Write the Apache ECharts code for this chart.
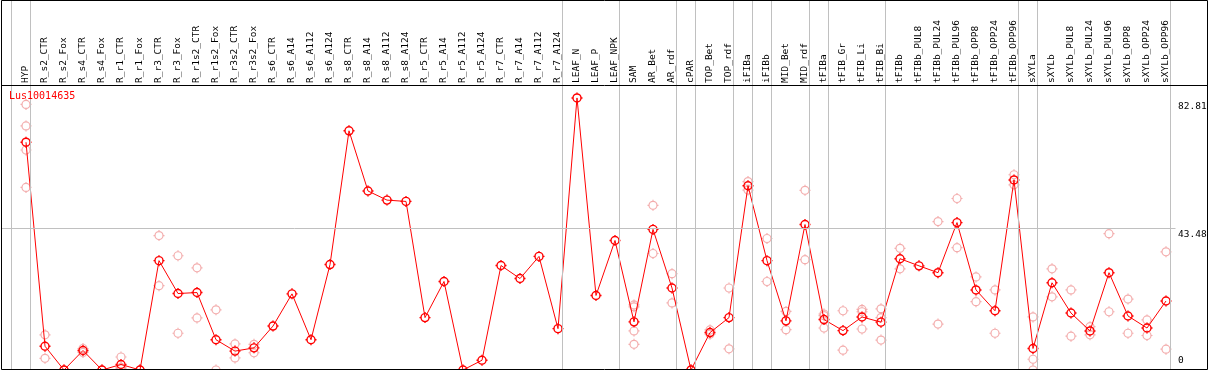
<!DOCTYPE html>
<html><head><meta charset="utf-8">
<script src="https://cdn.jsdelivr.net/npm/echarts@6/dist/echarts.min.js"></script>
<style>html,body{margin:0;padding:0;background:#fff}#c{width:1209px;height:370px}</style>
</head><body><div id="c"></div>
<script>
const geneName = 'Lus10014635';
const categories = ['HYP','R_s2_CTR','R_s2_Fox','R_s4_CTR','R_s4_Fox','R_r1_CTR','R_r1_Fox','R_r3_CTR','R_r3_Fox',
  'R_r1s2_CTR','R_r1s2_Fox','R_r3s2_CTR','R_r3s2_Fox','R_s6_CTR','R_s6_A14','R_s6_A112','R_s6_A124','R_s8_CTR',
  'R_s8_A14','R_s8_A112','R_s8_A124','R_r5_CTR','R_r5_A14','R_r5_A112','R_r5_A124','R_r7_CTR','R_r7_A14','R_r7_A112',
  'R_r7_A124','LEAF_N','LEAF_P','LEAF_NPK','SAM','AR_Bet','AR_rdf','cPAR','TOP_Bet','TOP_rdf','iFIBa','iFIBb',
  'MID_Bet','MID_rdf','tFIBa','tFIB_Gr','tFIB_Li','tFIB_Bi','tFIBb','tFIBb_PUL8','tFIBb_PUL24','tFIBb_PUL96',
  'tFIBb_OPP8','tFIBb_OPP24','tFIBb_OPP96','sXYLa','sXYLb','sXYLb_PUL8','sXYLb_PUL24','sXYLb_PUL96','sXYLb_OPP8',
  'sXYLb_OPP24','sXYLb_OPP96'];
const means = [70.0, 7.3, 0, 6.0, 0, 1.7, 0, 33.6, 23.5, 23.8, 9.3, 5.8, 6.8, 13.5, 23.4, 9.3, 32.4, 73.5,
  55.0, 52.2, 51.8, 16.1, 27.2, 0, 3.0, 32.1, 28.1, 34.9, 12.7, 83.6, 22.9, 39.8, 14.8, 43.2, 25.2, 0, 11.5, 16.1,
  56.6, 33.6, 15.1, 44.7, 15.5, 12.1, 16.3, 14.7, 34.2, 32.0, 29.9, 45.3, 24.6, 18.2, 58.4, 6.6, 26.8, 17.5, 12.0,
  29.9, 16.6, 12.9, 21.2];
const replicates = [
  [81.6, 75.0, 67.6, 56.1], [10.8, 3.6], [0, 0], [6.6, 5.4], [0, 0], [4.0, 0.8, 0.4], [0, 0], [41.3, 25.9],
  [35.1, 11.3], [31.4, 16.0], [18.5, 0], [8.0, 3.7], [7.9, 5.3],
  [], [], [], [], [], [], [], [], [], [], [], [], [], [], [], [], [], [], [],
  [20.0, 19.4, 12.0, 7.9], [50.6, 35.8], [29.6, 20.6], [0, 0], [12.3, 11.0], [25.2, 6.5], [57.9, 55.3],
  [40.4, 27.2], [18.0, 12.4], [55.2, 33.9], [17.2, 16.7, 12.9], [18.2, 6.1], [18.6, 17.9, 12.6],
  [18.8, 16.1, 9.2], [37.4, 31.1], [], [45.6, 14.1], [52.7, 37.6], [28.6, 21.0], [24.6, 11.3], [60.0, 56.9],
  [16.3, 3.3, 0], [31.1, 22.5], [24.6, 10.4], [13.3, 10.8], [41.9, 17.9], [21.8, 11.3], [15.4, 10.6], [36.3, 6.4]
];
const yUpperLabels = [43.48, 82.81];
const yZeroLabel = [0];
const refLineValue = 43.48;
const groupEndsAfter = [-1, 0, 28, 31, 34, 35, 37, 38, 39, 41, 42, 45, 52, 53, 60];

const FONT = 'DejaVu Sans Mono';
const STEP = 19;
const xMin = -25 / STEP;
const xMax = xMin + 1206 / STEP;
const yMax = 370 / 3.2544;
const sepOffset = 4.5 / STEP;
const targetSymbol = 'path://M0,-5.5L0,-4M0,4L0,5.5M-5.5,0L-4,0M4,0L5.5,0M4,0A4,4 0 1,1 -4,0A4,4 0 1,1 4,0';

const lineData = means.map((v, i) => [i, v]);
const repData = [];
replicates.forEach((arr, i) => arr.forEach(v => repData.push([i, v])));

const chart = echarts.init(document.getElementById('c'), null, {renderer: 'canvas'});
const baseY = {
  type: 'value', min: 0, max: yMax, position: 'right',
  axisLine: {show: false}, axisTick: {show: false}, splitLine: {show: false}
};
chart.setOption({
  animation: false,
  title: {text: geneName, left: 9, top: 91, padding: 0,
    textStyle: {fontFamily: FONT, fontSize: 10, fontWeight: 'normal', color: '#ff0000'}},
  grid: {left: 1, right: 2, top: 0, bottom: 0, containLabel: false, outerBoundsMode: 'none'},
  xAxis: {
    type: 'value', min: xMin, max: xMax, position: 'top', offset: -85,
    axisLine: {show: false}, axisTick: {show: false}, splitLine: {show: false},
    axisLabel: {customValues: categories.map((c, i) => i), rotate: 90, margin: 2,
      formatter: v => categories[Math.round(v)] || '', fontFamily: FONT, fontSize: 9.5, color: '#000'}
  },
  yAxis: [
    Object.assign({}, baseY, {axisLabel: {customValues: yUpperLabels, inside: true, margin: 29, align: 'left',
      verticalAlign: 'top', padding: [1, 0, 0, 0], formatter: v => String(v), fontFamily: FONT, fontSize: 9.5, color: '#000'}}),
    Object.assign({}, baseY, {axisLabel: {customValues: yZeroLabel, inside: true, margin: 29, align: 'left',
      verticalAlign: 'bottom', padding: [0, 0, 4, 0], formatter: v => String(v), fontFamily: FONT, fontSize: 9.5, color: '#000'}})
  ],
  graphic: [
    {type: 'rect', z: 100, silent: true, shape: {x: 1.5, y: 0.5, width: 1206, height: 369},
      style: {fill: 'none', stroke: '#000', lineWidth: 1}},
    {type: 'line', z: 100, silent: true, shape: {x1: 1.5, y1: 85.5, x2: 1207.5, y2: 85.5},
      style: {stroke: '#000', lineWidth: 1}}
  ],
  series: [
    {type: 'line', data: [], z: 1, silent: true,
      markLine: {silent: true, symbol: ['none', 'none'], label: {show: false}, animation: false,
        lineStyle: {color: '#c0c0c0', width: 1, type: 'solid'}, emphasis: {disabled: true},
        data: groupEndsAfter.map(i => ({xAxis: i + sepOffset})).concat([
          [{coord: [xMin, refLineValue]}, {coord: [categories.length - 0.5, refLineValue]}]
        ])}},
    {type: 'scatter', data: repData, z: 2, clip: false, symbol: targetSymbol, symbolSize: 11,
      itemStyle: {color: 'none', borderColor: '#f09898', borderWidth: 1.2}},
    {type: 'line', data: lineData, z: 3, clip: false, symbol: targetSymbol, symbolSize: 11, showAllSymbol: true,
      lineStyle: {color: '#ff0000', width: 1},
      itemStyle: {color: 'none', borderColor: '#ff0000', borderWidth: 1.4}}
  ]
});
</script></body></html>
